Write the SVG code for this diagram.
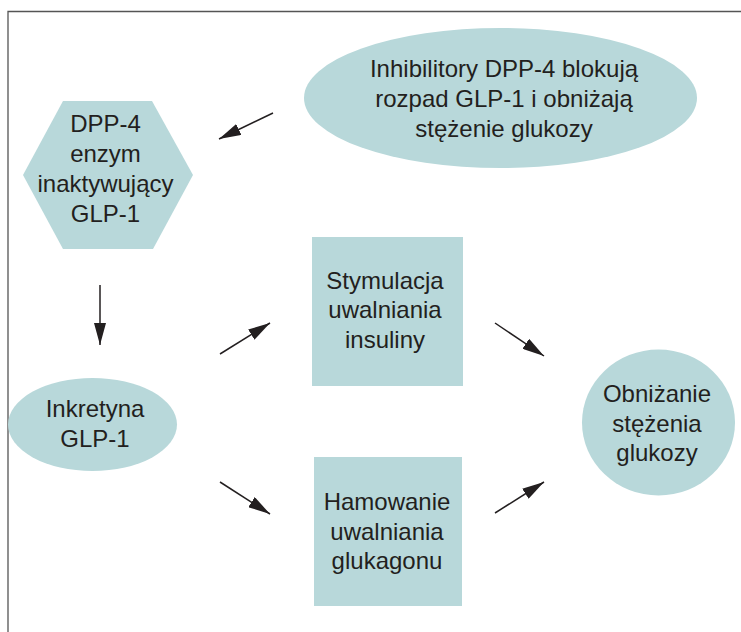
<svg xmlns="http://www.w3.org/2000/svg" width="741" height="632" viewBox="0 0 741 632">
<style>
.shape{fill:#b8d8da;stroke:none}
.lbl{font-family:"Liberation Sans",Arial,sans-serif;font-size:24px;fill:#231f20;text-anchor:middle}
.conn{stroke:#231f20;stroke-width:1.5;fill:none;marker-end:url(#ah)}
.frame{stroke:#555;stroke-width:1.3;fill:none}
</style>
<defs>
<marker id="ah" markerUnits="userSpaceOnUse" markerWidth="22" markerHeight="12" refX="22" refY="6" orient="auto" viewBox="0 0 22 12">
<path d="M0,0 L22,6 L0,12 z" fill="#231f20"/>
</marker>
</defs>
<rect width="741" height="632" fill="#fff"/>
<path class="frame" d="M741,11.5 H8 V632"/>
<g id="inhibitors">
<ellipse class="shape" cx="500.5" cy="98" rx="196.5" ry="70"/>
<text class="lbl" x="504" y="77">Inhibilitory DPP-4 blokują</text>
<text class="lbl" x="504" y="107">rozpad GLP-1 i obniżają</text>
<text class="lbl" x="504" y="137">stężenie glukozy</text>
</g>
<g id="dpp4">
<polygon class="shape" points="23,175 63,101 152,101 193,175 153,249 63,249"/>
<text class="lbl" x="105.5" y="132">DPP-4</text>
<text class="lbl" x="105.5" y="162">enzym</text>
<text class="lbl" x="105.5" y="192">inaktywujący</text>
<text class="lbl" x="105.5" y="222">GLP-1</text>
</g>
<g id="incretin">
<ellipse class="shape" cx="92.5" cy="424.5" rx="84.5" ry="46.5"/>
<text class="lbl" x="95" y="417">Inkretyna</text>
<text class="lbl" x="95" y="447">GLP-1</text>
</g>
<g id="insulin">
<rect class="shape" x="312" y="237" width="151" height="149"/>
<text class="lbl" x="385" y="289">Stymulacja</text>
<text class="lbl" x="385" y="318">uwalniania</text>
<text class="lbl" x="385" y="348">insuliny</text>
</g>
<g id="glucagon">
<rect class="shape" x="314" y="457" width="148" height="149"/>
<text class="lbl" x="387" y="510">Hamowanie</text>
<text class="lbl" x="387" y="540">uwalniania</text>
<text class="lbl" x="387" y="569">glukagonu</text>
</g>
<g id="glucose">
<ellipse class="shape" cx="658.5" cy="422.5" rx="76.5" ry="73"/>
<text class="lbl" x="657" y="402">Obniżanie</text>
<text class="lbl" x="657" y="432">stężenia</text>
<text class="lbl" x="657" y="461">glukozy</text>
</g>
<g id="connectors">
<line class="conn" x1="273" y1="113" x2="219" y2="139"/>
<line class="conn" x1="100" y1="285" x2="100" y2="345"/>
<line class="conn" x1="220" y1="354" x2="270" y2="323"/>
<line class="conn" x1="220" y1="482" x2="270" y2="514"/>
<line class="conn" x1="495" y1="323" x2="544" y2="356"/>
<line class="conn" x1="495" y1="513" x2="544" y2="482"/>
</g>
</svg>
